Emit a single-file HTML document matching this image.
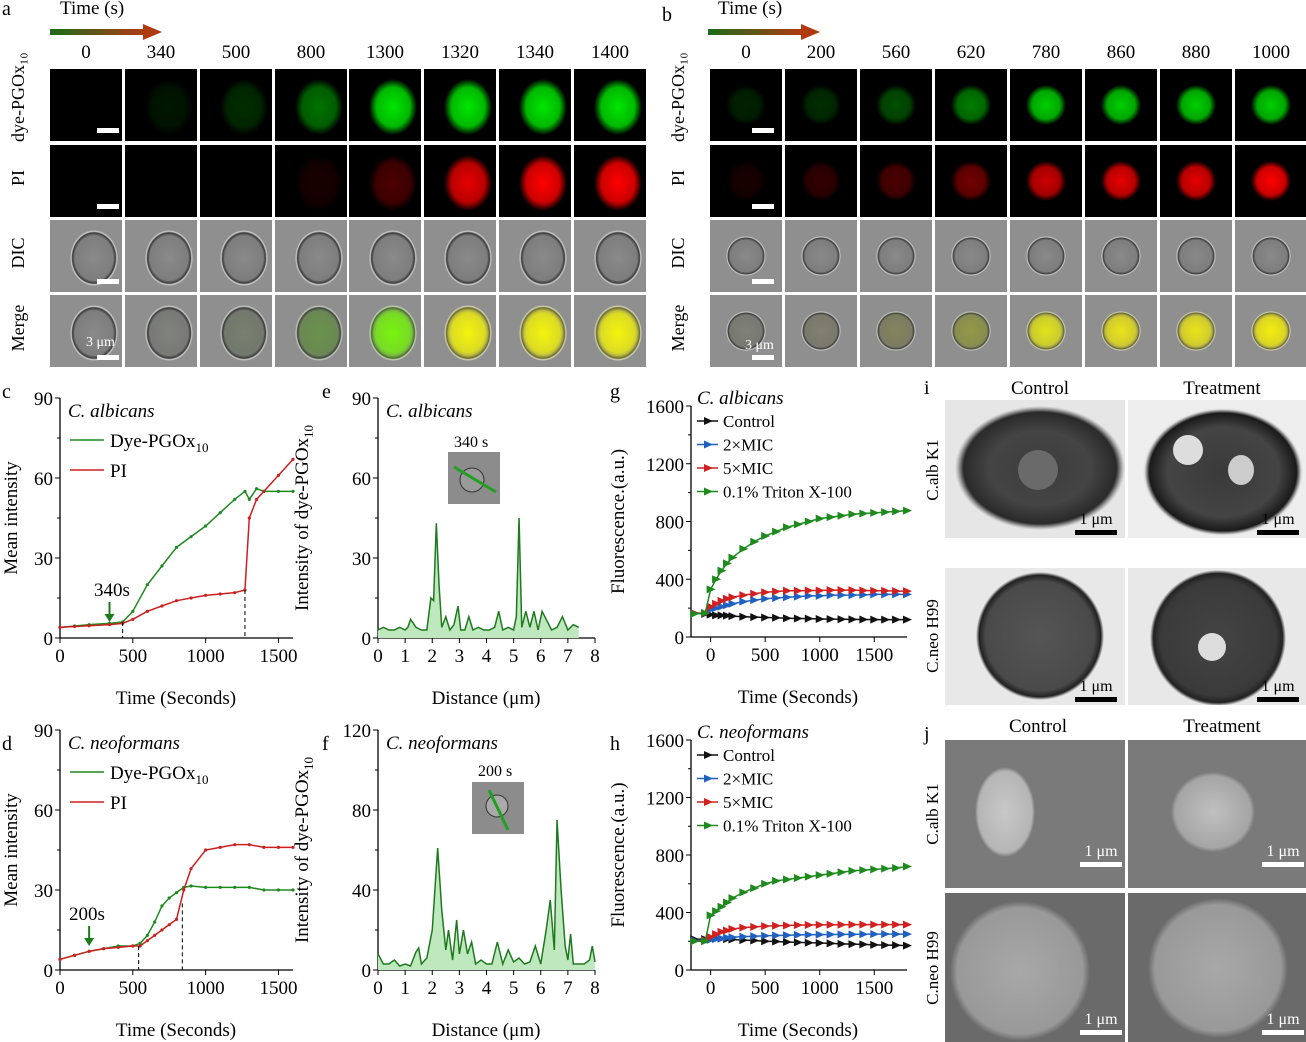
<!DOCTYPE html>
<html><head><meta charset="utf-8"><style>
body{margin:0;width:1306px;height:1042px;background:#fff;position:relative;overflow:hidden;font-family:"Liberation Serif",serif}
.t{position:absolute}
.tile{position:absolute;width:72px;height:72px;overflow:hidden}
.lbl{position:absolute;font-size:19px;text-align:center}
.rot{position:absolute;transform:rotate(-90deg);transform-origin:center;white-space:nowrap;font-size:19px;text-align:center}
.img{position:absolute;overflow:hidden}
</style></head><body>
<div class="lbl" style="left:2px;top:-2px;font-size:20px">a</div>
<div class="lbl" style="left:662px;top:4px;font-size:20px">b</div>
<div class="lbl" style="left:60px;top:-2px">Time (s)</div>
<div class="lbl" style="left:718px;top:-2px">Time (s)</div>
<svg class="t" style="left:0;top:0" width="1306" height="1042" id="main">
<defs><linearGradient id="arr" x1="0" x2="1"><stop offset="0" stop-color="#1a6b1a"/><stop offset="1" stop-color="#b03a10"/></linearGradient></defs>
<g><rect x="50" y="29" width="95" height="6" fill="url(#arr)"/><polygon points="143,24 162,32 143,40" fill="#b03a10"/></g>
<g><rect x="708" y="29" width="95" height="6" fill="url(#arr)"/><polygon points="801,24 820,32 801,40" fill="#b03a10"/></g>
</svg>
<div id="tiles"></div>
<script>
// tile content (not chart data)
const colsA=[0,340,500,800,1300,1320,1340,1400];
const colsB=[0,200,560,620,780,860,880,1000];
const dyeA=[0,0.1,0.2,0.5,1,1,1,1], piA=[0,0,0,0.1,0.3,0.9,1,1];
const dyeB=[0.15,0.2,0.35,0.55,0.9,0.9,0.9,0.9], piB=[0.1,0.2,0.3,0.45,0.8,0.9,0.9,1];
const xA=[50,125,200,275,349,424,499,574], xB=[710,785,860,935,1010,1085,1160,1235];
const rowsY=[69,145,220,295];
const T=document.getElementById('tiles');
function addText(txt,x,y,cls,name){const d=document.createElement('div');d.className=cls;d.textContent=txt;d.style.left=x+'px';d.style.top=y+'px';


T.appendChild(d);return d;}
function tile(x,y,bg,name){const d=document.createElement('div');d.className='tile';d.style.left=x+'px';d.style.top=y+'px';d.style.background=bg;


T.appendChild(d);}
function build(cols,xs,dye,pi,cx,cy,rx,ry,pre){
 cols.forEach((c,i)=>{const l=addText(String(c),xs[i],42,'lbl',pre+'-time-'+c);l.style.width='72px';
 const g=Math.round(255*dye[i]), r=Math.round(255*pi[i]);
 const blob=(col,a)=>`radial-gradient(ellipse ${rx}px ${ry}px at ${cx}px ${cy}px, rgba(${col},${a}) 0%, rgba(${col},${a*0.8}) 70%, rgba(${col},0) 100%)`;
 tile(xs[i],rowsY[0],blob('0,230,0',dye[i])+',#000',pre+'-dye-tile-'+c);
 tile(xs[i],rowsY[1],blob('255,0,0',pi[i])+',#000',pre+'-pi-tile-'+c);
 const dic=`radial-gradient(ellipse ${rx}px ${ry}px at ${cx}px ${cy}px, #8a8a8a 0%, #7d7d7d 80%, #3a3a3a 90%, #d0d0d0 95%, #8f8f8f 100%),#8f8f8f`;
 tile(xs[i],rowsY[2],dic,pre+'-dic-tile-'+c);
 const mc=`${Math.round(Math.min(255,r+40))},${Math.round(Math.min(255,g*0.9+40))},0`;
 tile(xs[i],rowsY[3],blob(mc,Math.max(dye[i],pi[i])*0.9)+','+dic,pre+'-merge-tile-'+c);
 });
}
build(colsA,xA,dyeA,piA,44,38,24,28,'a');
build(colsB,xB,dyeB,piB,36,36,20,20,'b');
const rl=[['dye-\nPGOx₁₀',105],['PI',181],['DIC',256],['Merge',331]];
[[ -12,'a'],[648,'b']].forEach(([x,p])=>{rl.forEach(([t,y],k)=>{const d=addText(t.replace('\n',''),x,y-12,'rot',p+'-row-label-'+k);d.style.width='80px';d.style.left=(x-10)+'px';d.style.fontSize='18px';d.style.lineHeight='18px';});});
// scale bars
[[97,'a'],[752,'b']].forEach(([x,p])=>{[128,204,279,355].forEach((y,k)=>{const s=document.createElement('div');s.className='t';s.style.cssText=`left:${x}px;top:${y}px;width:22px;height:5px;background:#fff`;


T.appendChild(s);});});
const sa=addText('3 μm',86,335,'t','a-scale-text');sa.style.color='#fff';sa.style.fontSize='14px';
const sb=addText('3 μm',745,338,'t','b-scale-text');sb.style.color='#fff';sb.style.fontSize='14px';
</script>

<!-- TEM / SEM images -->
<div class="img" style="left:945px;top:400px;width:180px;height:138px;background:radial-gradient(ellipse 85px 62px at 95px 68px,#3c3c3c 0%,#444 60%,#2a2a2a 90%,#bbb 97%,#e6e6e6 100%)"><div style="position:absolute;left:73px;top:50px;width:40px;height:40px;border-radius:50%;background:#6a6a6a"></div></div>
<div class="img" style="left:1128px;top:400px;width:178px;height:138px;background:radial-gradient(ellipse 80px 64px at 95px 72px,#3a3a3a 0%,#444 70%,#1a1a1a 92%,#ddd 98%,#eee 100%)"><div style="position:absolute;left:45px;top:35px;width:30px;height:30px;border-radius:50%;background:#ddd"></div><div style="position:absolute;left:100px;top:55px;width:26px;height:30px;border-radius:50%;background:#ccc"></div></div>
<div class="img" style="left:945px;top:568px;width:180px;height:137px;background:radial-gradient(circle 64px at 95px 68px,#555 0%,#4a4a4a 85%,#222 95%,#e8e8e8 100%)"></div>
<div class="img" style="left:1128px;top:568px;width:178px;height:137px;background:radial-gradient(circle 68px at 90px 70px,#444 0%,#3a3a3a 85%,#222 95%,#e8e8e8 100%)"><div style="position:absolute;left:70px;top:65px;width:28px;height:28px;border-radius:50%;background:#ddd"></div></div>
<div class="img" style="left:945px;top:740px;width:180px;height:148px;background:radial-gradient(ellipse 30px 45px at 60px 72px,#c8c8c8 0%,#b5b5b5 90%,#7a7a7a 100%),#7e7e7e"></div>
<div class="img" style="left:1128px;top:740px;width:178px;height:148px;background:radial-gradient(ellipse 42px 40px at 85px 72px,#c0c0c0 0%,#a5a5a5 90%,#7a7a7a 100%),#7e7e7e"></div>
<div class="img" style="left:945px;top:893px;width:180px;height:149px;background:radial-gradient(circle 70px at 75px 78px,#a8a8a8 0%,#999 90%,#6a6a6a 100%),#727272"></div>
<div class="img" style="left:1128px;top:893px;width:178px;height:149px;background:radial-gradient(circle 70px at 90px 75px,#a8a8a8 0%,#999 90%,#6a6a6a 100%),#727272"></div>

<svg class="t" style="left:0;top:0" width="1306" height="1042" id="charts" font-family="Liberation Serif, serif"></svg>
<script>
// ===== chart data =====
const cTime=[0,100,200,340,430,500,600,700,800,900,1000,1100,1200,1270,1300,1350,1400,1500,1600];
const cDye=[4,4.5,5,5.5,6,10,20,27,34,38,42,47,52,55,52,56,55,55,55];
const cPI=[4,4.3,4.6,5,5.5,7,10,12,14,15,16,16.5,17,18,45,52,55,61,67];
const dTime=[0,100,200,300,400,500,550,600,650,700,750,800,850,900,1000,1100,1200,1300,1400,1500,1600];
const dDye=[4,5.5,7,8,9,9,10,13,18,24,27,29,31,31.5,31,31,31,31,30,30,30];
const dPI=[4,5.5,7,8,8.5,9,9,11,13,15,17,19,30,38,45,46,47,47,46,46,46];
const eDist=[0,0.2,0.4,0.6,0.8,1,1.1,1.2,1.4,1.6,1.8,1.95,2.05,2.15,2.25,2.35,2.5,2.65,2.8,2.95,3.05,3.2,3.35,3.5,3.7,3.9,4.1,4.3,4.45,4.6,4.8,5.0,5.1,5.2,5.3,5.45,5.6,5.75,5.9,6.05,6.2,6.4,6.6,6.8,7.0,7.2,7.4];
const eInt=[3,4,3,3,4,3,4,7,4,3,3,15,14,43,20,4,8,3,5,12,3,3,8,3,4,3,3,4,10,3,4,3,8,45,4,10,4,10,3,10,7,3,4,8,3,5,4];
const fDist=[0,0.2,0.4,0.6,0.8,1.0,1.2,1.4,1.5,1.6,1.8,2.0,2.2,2.35,2.5,2.6,2.75,2.9,3.0,3.15,3.3,3.45,3.6,3.8,4.0,4.2,4.4,4.6,4.8,5.0,5.2,5.4,5.6,5.8,6.0,6.2,6.35,6.5,6.6,6.75,6.9,7.0,7.1,7.2,7.4,7.6,7.8,7.9,8.0];
const fInt=[8,3,3,5,2,3,2,9,11,3,6,20,61,30,10,20,5,25,8,20,8,14,3,5,3,3,14,3,10,4,6,3,4,12,3,20,35,10,75,40,12,5,18,3,3,3,5,12,4];
const gTime=[-150,-50,0,50,100,150,200,300,400,500,600,700,800,900,1000,1100,1200,1300,1400,1500,1600,1700,1800];
const gCtrl=[165,160,155,150,150,148,145,140,138,135,133,130,128,127,125,124,123,122,121,120,120,120,120];
const g2x=[165,165,190,200,210,220,230,245,255,265,270,275,280,285,285,290,290,290,292,295,295,295,295];
const g5x=[165,165,210,230,250,265,275,290,300,310,315,320,320,322,322,325,325,325,322,320,320,318,318];
const gTri=[160,165,330,400,460,510,550,610,660,700,730,760,780,800,820,830,840,850,855,860,865,870,875];
const hCtrl=[215,215,220,220,218,215,212,208,205,200,198,195,192,190,188,185,182,180,178,175,173,172,170];
const h2x=[205,205,210,215,220,225,228,232,235,238,240,242,244,245,246,247,248,248,249,250,250,250,250];
const h5x=[200,205,230,250,265,275,285,295,300,305,308,310,312,313,314,315,315,316,316,316,316,316,316];
const hTri=[200,200,380,410,440,470,500,540,570,600,620,630,640,650,660,670,680,690,695,700,705,710,720];
const xTicksTime=[0,500,1000,1500];
const yTicks90=[0,30,60,90];
const yTicks120=[0,40,80,120];
const xTicksDist=[0,1,2,3,4,5,6,7,8];
const yTicksFl=[0,400,800,1200,1600];
// ======================
const S=document.getElementById('charts');const NS='http://www.w3.org/2000/svg';
function el(tag,attrs,parent,name){const e=document.createElementNS(NS,tag);for(const k in attrs)e.setAttribute(k,attrs[k]);


(parent||S).appendChild(e);return e;}
function txt(s,x,y,attrs,name,parent){const t=el('text',Object.assign({x:x,y:y,'font-size':19},attrs||{}),parent,name);t.textContent=s;return t;}
function axes(o){
 const sx=v=>o.L+(v-o.xmin)/(o.xmax-o.xmin)*(o.R-o.L);
 const sy=v=>o.B-(v-o.ymin)/(o.ymax-o.ymin)*(o.B-o.T);
 const g=el('g',{},S,o.id+'-axes');
 el('line',{x1:o.L,y1:o.B,x2:o.R,y2:o.B,stroke:'#000','stroke-width':1.3},g,o.id+'-x-axis');
 el('line',{x1:o.L,y1:o.B,x2:o.L,y2:o.T,stroke:'#000','stroke-width':1.3},g,o.id+'-y-axis');
 o.xt.forEach(v=>{el('line',{x1:sx(v),y1:o.B,x2:sx(v),y2:o.B+5,stroke:'#000'},g,o.id+'-x-tick');txt(String(v),sx(v),o.B+24,{'text-anchor':'middle',}, o.id+'-x-tick-label',g);});
 o.yt.forEach(v=>{el('line',{x1:o.L,y1:sy(v),x2:o.L-5,y2:sy(v),stroke:'#000'},g,o.id+'-y-tick');txt(String(v),o.L-7,sy(v)+7,{'text-anchor':'end'},o.id+'-y-tick-label',g);});
 for(let i=0;i<o.yt.length-1;i++){const m=(o.yt[i]+o.yt[i+1])/2;el('line',{x1:o.L,y1:sy(m),x2:o.L-3,y2:sy(m),stroke:'#000'},g,o.id+'-y-minor');}
 return {sx,sy};
}
function line(xs,ys,a,color,name,marker){
 const pts=xs.map((x,i)=>a.sx(x)+','+a.sy(ys[i])).join(' ');
 el('polyline',{points:pts,fill:'none',stroke:color,'stroke-width':1.5},S,name);
 xs.forEach((x,i)=>{const X=a.sx(x),Y=a.sy(ys[i]);
  if(marker==='tri')el('polygon',{points:`${X-4},${Y-4} ${X+5},${Y} ${X-4},${Y+4}`,fill:color},S,name+'-marker');
  else el('circle',{cx:X,cy:Y,r:1.6,fill:color},S,name+'-marker');});
}
function area(xs,ys,a,name){
 const pts=xs.map((x,i)=>a.sx(x)+','+a.sy(ys[i]));
 el('polygon',{points:a.sx(xs[0])+','+a.sy(0)+' '+pts.join(' ')+' '+a.sx(xs[xs.length-1])+','+a.sy(0),fill:'#bfe8bf',stroke:'none'},S,name+'-fill');
 el('polyline',{points:pts.join(' '),fill:'none',stroke:'#1e7a1e','stroke-width':1.5},S,name);
}
function ylabel(s,x,y,name){txt(s,x,y,{'text-anchor':'middle',transform:`rotate(-90 ${x} ${y})`},name);}
// c
let a=axes({id:'c',L:60,R:293,T:398,B:638,xmin:0,xmax:1600,ymin:0,ymax:90,xt:xTicksTime,yt:yTicks90});
line(cTime,cDye,a,'#1e8a1e','c-dye-line');line(cTime,cPI,a,'#cc2020','c-pi-line');
el('line',{x1:a.sx(430),y1:a.sy(6),x2:a.sx(430),y2:638,stroke:'#000','stroke-dasharray':'4,3'},S,'c-dash-1');
el('line',{x1:a.sx(1270),y1:a.sy(18),x2:a.sx(1270),y2:638,stroke:'#000','stroke-dasharray':'4,3'},S,'c-dash-2');
el('line',{x1:a.sx(340),y1:602,x2:a.sx(340),y2:618,stroke:'#1e7a1e','stroke-width':2},S,'c-arrow');
el('polygon',{points:`${a.sx(340)-5},614 ${a.sx(340)+5},614 ${a.sx(340)},622`,fill:'#1e7a1e'},S,'c-arrowhead');
txt('340s',94,596,{},'c-arrow-label');
txt('C. albicans',68,417,{'font-style':'italic'},'c-title');
// d
a=axes({id:'d',L:60,R:293,T:730,B:970,xmin:0,xmax:1600,ymin:0,ymax:90,xt:xTicksTime,yt:yTicks90});
line(dTime,dDye,a,'#1e8a1e','d-dye-line');line(dTime,dPI,a,'#cc2020','d-pi-line');
el('line',{x1:a.sx(540),y1:a.sy(9),x2:a.sx(540),y2:970,stroke:'#000','stroke-dasharray':'4,3'},S,'d-dash-1');
el('line',{x1:a.sx(840),y1:a.sy(25),x2:a.sx(840),y2:970,stroke:'#000','stroke-dasharray':'4,3'},S,'d-dash-2');
el('line',{x1:a.sx(200),y1:926,x2:a.sx(200),y2:942,stroke:'#1e7a1e','stroke-width':2},S,'d-arrow');
el('polygon',{points:`${a.sx(200)-5},938 ${a.sx(200)+5},938 ${a.sx(200)},946`,fill:'#1e7a1e'},S,'d-arrowhead');
txt('200s',69,920,{},'d-arrow-label');
txt('C. neoformans',68,749,{'font-style':'italic'},'d-title');
[[440,'c'],[772,'d']].forEach(([y,p])=>{
 el('line',{x1:70,y1:y,x2:104,y2:y,stroke:'#1e8a1e','stroke-width':1.5},S,p+'-legend-dye-line');
 const t=txt('Dye-PGOx',110,y+7,{},p+'-legend-dye');const ts=document.createElementNS(NS,'tspan');ts.setAttribute('font-size','13');ts.setAttribute('dy','5');ts.textContent='10';t.appendChild(ts);
 el('line',{x1:70,y1:y+30,x2:104,y2:y+30,stroke:'#cc2020','stroke-width':1.5},S,p+'-legend-pi-line');
 txt('PI',110,y+37,{},p+'-legend-pi');});
ylabel('Mean intensity',17,518,'c-y-title');ylabel('Mean intensity',17,850,'d-y-title');
txt('Time (Seconds)',176,704,{'text-anchor':'middle'},'c-x-title');txt('Time (Seconds)',176,1036,{'text-anchor':'middle'},'d-x-title');
// e
a=axes({id:'e',L:378,R:595,T:398,B:638,xmin:0,xmax:8,ymin:0,ymax:90,xt:xTicksDist,yt:yTicks90});
area(eDist,eInt,a,'e-profile');
txt('C. albicans',386,417,{'font-style':'italic'},'e-title');txt('340 s',454,447,{'font-size':16},'e-inset-label');
el('rect',{x:448,y:452,width:52,height:52,fill:'#8c8c8c'},S,'e-inset');
el('circle',{cx:472,cy:480,r:12,fill:'#9a9a9a',stroke:'#333'},S,'e-inset-cell');
el('line',{x1:454,y1:467,x2:496,y2:492,stroke:'#20a020','stroke-width':3},S,'e-inset-line');
// f
a=axes({id:'f',L:378,R:595,T:730,B:970,xmin:0,xmax:8,ymin:0,ymax:120,xt:xTicksDist,yt:yTicks120});
area(fDist,fInt,a,'f-profile');
txt('C. neoformans',386,749,{'font-style':'italic'},'f-title');txt('200 s',478,776,{'font-size':16},'f-inset-label');
el('rect',{x:472,y:782,width:52,height:52,fill:'#8c8c8c'},S,'f-inset');
el('circle',{cx:497,cy:806,r:11,fill:'#aaa',stroke:'#333'},S,'f-inset-cell');
el('line',{x1:489,y1:790,x2:508,y2:830,stroke:'#20a020','stroke-width':3},S,'f-inset-line');
[[318,518,'e'],[318,850,'f']].forEach(([x,y,p])=>{const t=txt('Intensity of dye-PGOx',x,y-10,{'text-anchor':'middle',transform:`rotate(-90 ${x} ${y})`},p+'-y-title');const ts=document.createElementNS(NS,'tspan');ts.setAttribute('font-size','13');ts.setAttribute('dy','5');ts.textContent='10';t.appendChild(ts);});
txt('Distance (μm)',486,704,{'text-anchor':'middle'},'e-x-title');txt('Distance (μm)',486,1036,{'text-anchor':'middle'},'f-x-title');
// g,h
[['g',406,637,[gCtrl,g2x,g5x,gTri],'C. albicans'],['h',740,970,[hCtrl,h2x,h5x,hTri],'C. neoformans']].forEach(([id,T,B,ser,title])=>{
 const a=axes({id:id,L:691,R:907,T:T,B:B,xmin:-180,xmax:1800,ymin:0,ymax:1600,xt:xTicksTime,yt:yTicksFl});
 const cols=['#111','#2060c0','#d02020','#1e8a1e'],names=['Control','2×MIC','5×MIC','0.1% Triton X-100'];
 ser.forEach((s,i)=>line(gTime,s,a,cols[i],id+'-'+['control','2xmic','5xmic','triton'][i]+'-line','tri'));
 txt(title,697,T-2,{'font-style':'italic'},id+'-title');
 names.forEach((n,i)=>{const y=T+15+i*23.5;el('line',{x1:697,y1:y,x2:718,y2:y,stroke:cols[i],'stroke-width':1.5},S,id+'-legend-line-'+i);
  el('polygon',{points:`${704},${y-4} ${713},${y} ${704},${y+4}`,fill:cols[i]},S,id+'-legend-marker-'+i);
  txt(n,723,y+6,{'font-size':17},id+'-legend-'+i);});
 ylabel('Fluorescence.(a.u.)',624,(T+B)/2,id+'-y-title');
 txt('Time (Seconds)',798,B+66,{'text-anchor':'middle'},id+'-x-title');
});
// panel labels & i/j text
[['c',2,398],['e',322,398],['g',610,398],['d',2,750],['f',322,750],['h',610,750],['i',924,394],['j',924,740]].forEach(([l,x,y])=>txt(l,x,y,{'font-size':20},'panel-'+l+'-label'));
txt('Control',1040,394,{'text-anchor':'middle'},'i-control-title');txt('Treatment',1222,394,{'text-anchor':'middle'},'i-treatment-title');
txt('Control',1038,732,{'text-anchor':'middle'},'j-control-title');txt('Treatment',1222,732,{'text-anchor':'middle'},'j-treatment-title');
[['C.alb K1',938,470,'#000'],['C.neo H99',938,636,'#000'],['C.alb K1',938,814,'#000'],['C.neo H99',938,968,'#000']].forEach(([s,x,y],k)=>txt(s,x,y,{'text-anchor':'middle','font-size':17,transform:`rotate(-90 ${x} ${y})`},'row-label-'+k));
[[1075,530,'#000'],[1257,530,'#000'],[1075,697,'#000'],[1257,697,'#000'],[1080,862,'#fff'],[1262,862,'#fff'],[1080,1030,'#fff'],[1262,1030,'#fff']].forEach(([x,y,c],k)=>{
 el('rect',{x:x,y:y,width:42,height:5,fill:c},S,'scale-bar-'+k);txt('1 μm',x+21,y-6,{'text-anchor':'middle','font-size':16,fill:c},'scale-text-'+k);});
</script>
</body></html>
